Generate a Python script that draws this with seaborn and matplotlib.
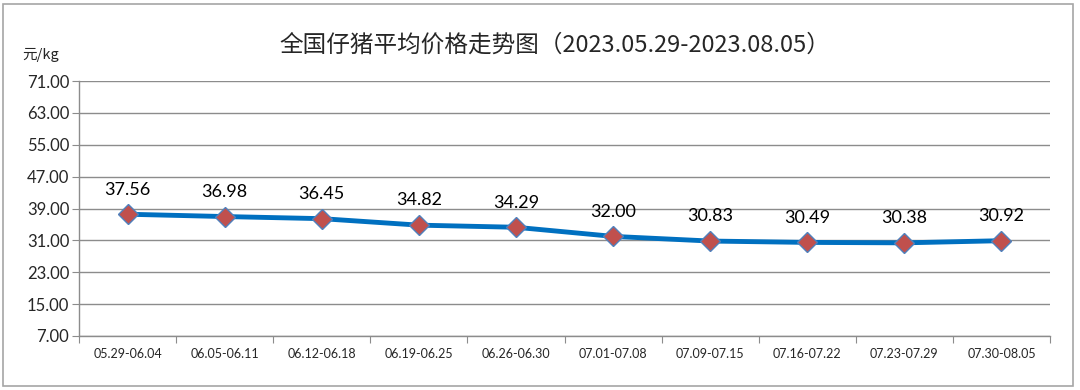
import matplotlib
matplotlib.use("Agg")
import matplotlib.pyplot as plt
import seaborn as sns
import pandas as pd
import numpy as np
from matplotlib.patches import Rectangle

weeks = ["05.29-06.04", "06.05-06.11", "06.12-06.18", "06.19-06.25", "06.26-06.30",
         "07.01-07.08", "07.09-07.15", "07.16-07.22", "07.23-07.29", "07.30-08.05"]
prices = [37.56, 36.98, 36.45, 34.82, 34.29, 32.00, 30.83, 30.49, 30.38, 30.92]
y_ticks = [7, 15, 23, 31, 39, 47, 55, 63, 71]

title = "全国仔猪平均价格走势图（2023.05.29-2023.08.05）"
unit = "元/kg"

sns.set_style("white")
plt.rcParams['font.family'] = ['Lato', 'Noto Sans CJK SC', 'DejaVu Sans']

df = pd.DataFrame({'x': np.arange(len(weeks)), 'price': prices})

fig = plt.figure(figsize=(10.8, 3.9), dpi=100)
ax = fig.add_axes([79 / 1080, 54 / 390, (1050 - 79) / 1080, (336 - 81) / 390])

# chart frame
fig.patches.append(Rectangle((3 / 1080, 4 / 390), 1070 / 1080, 382 / 390,
                             transform=fig.transFigure, fill=False,
                             edgecolor='#A6A6A6', linewidth=1.2))

sns.lineplot(data=df, x='x', y='price', ax=ax, color='#0070C0', linewidth=3.5,
             marker='D', markersize=10, markerfacecolor='#C0504D',
             markeredgecolor='#4F81BD', markeredgewidth=1.0, zorder=3)

for i, v in enumerate(prices):
    ax.annotate(f"{v:.2f}", (i, v), xytext=(0, 12), textcoords='offset points',
                ha='center', va='bottom', fontsize=13, color='#000000')

ax.set_xlim(-0.5, len(weeks) - 0.5)
ax.set_ylim(7, 71)
ax.set_yticks(y_ticks)
ax.set_yticklabels([f"{t:.2f}" for t in y_ticks], fontsize=12)
ax.yaxis.grid(True, color='#8C8C8C', linewidth=1.0)
ax.set_axisbelow(True)

ax.set_xticks(np.arange(-0.5, len(weeks), 1.0))
ax.set_xticklabels([])
ax.set_xticks(np.arange(len(weeks)), minor=True)
ax.set_xticklabels(weeks, minor=True, fontsize=9)
ax.tick_params(axis='x', which='major', direction='out', length=5, color='#8C8C8C', bottom=True)
ax.tick_params(axis='x', which='minor', length=0, pad=9, bottom=True)
ax.tick_params(axis='y', direction='out', length=5, color='#8C8C8C', left=True, pad=2)
ax.set_xlabel("")
ax.set_ylabel("")

for s in ['top', 'right']:
    ax.spines[s].set_visible(False)
for s in ['left', 'bottom']:
    ax.spines[s].set_color('#8C8C8C')
    ax.spines[s].set_linewidth(1.0)

fig.text(555 / 1080, 1 - 45 / 390, title, ha='center', va='center', fontsize=17,
         family=['Noto Sans CJK SC', 'DejaVu Sans'])
fig.text(22 / 1080, 1 - 55 / 390, unit, ha='left', va='center', fontsize=10.5,
         family=['Noto Sans CJK SC', 'DejaVu Sans'])

fig.savefig("out.png", dpi=100)
